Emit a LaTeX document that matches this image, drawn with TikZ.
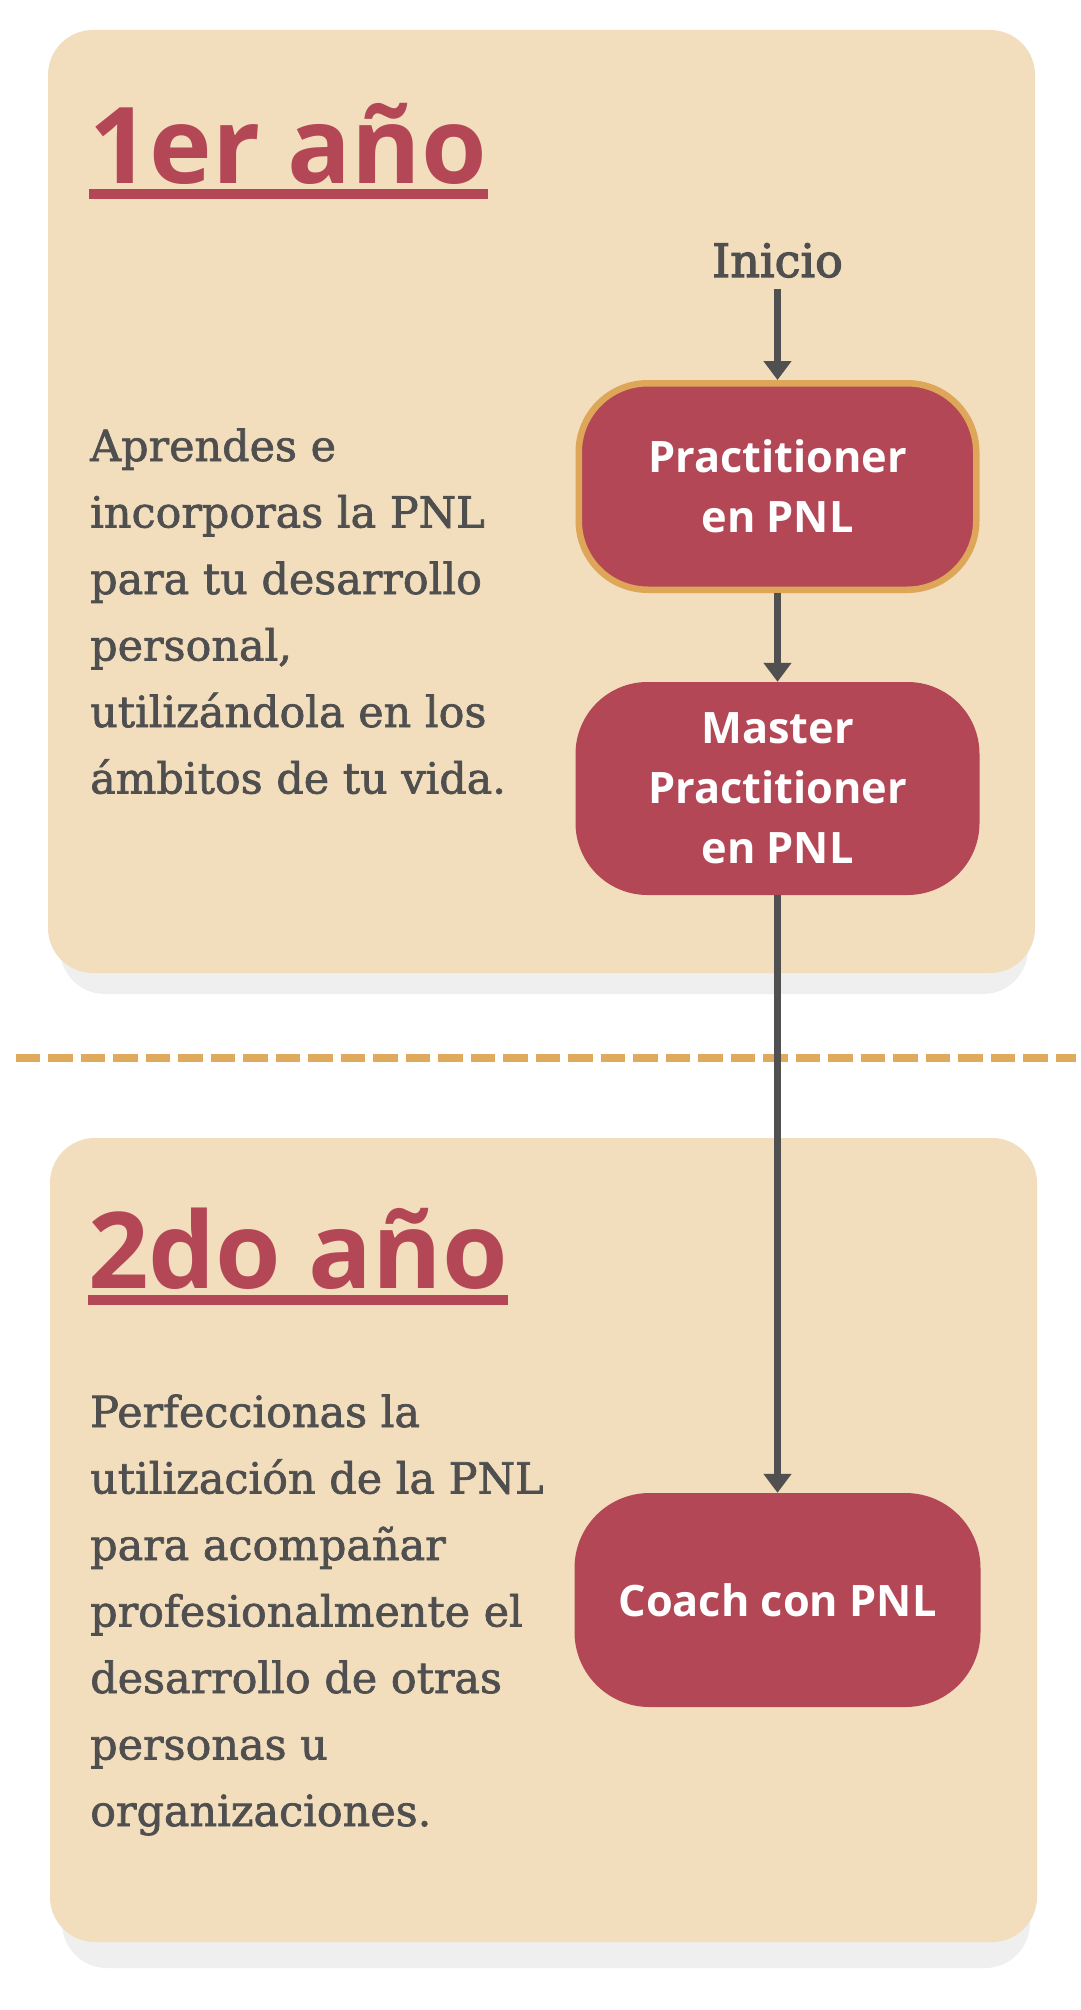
\documentclass[tikz,border=0pt]{standalone}
\usepackage{fontspec}
\setmainfont{DejaVu Serif}
\newfontfamily\bodyfont{DejaVu Serif}[FakeBold=1.6]
\newfontfamily\inifont{DejaVu Serif}[FakeBold=2.6]
\newfontfamily\osans{Open Sans}
\usetikzlibrary{arrows.meta}
\definecolor{beige}{HTML}{F2DDBD}
\definecolor{shadowgray}{HTML}{EFEFEF}
\definecolor{crimson}{HTML}{B44756}
\definecolor{gold}{HTML}{DEA658}
\definecolor{dashgold}{HTML}{E0AA5C}
\definecolor{textgray}{HTML}{4F4F4F}
\definecolor{arrowgray}{HTML}{505050}
\begin{document}
\begin{tikzpicture}[x=1pt,y=-1pt,
  panel/.style={fill=beige, rounded corners=45pt},
  panelshadow/.style={fill=shadowgray, rounded corners=45pt},
  stage/.style={rectangle, rounded corners=72pt, fill=crimson, text=white,
    font=\osans\bfseries\fontsize{43.3}{60}\selectfont, align=center,
    minimum width=404pt, minimum height=213pt, inner sep=0pt},
  yeartitle/.style={anchor=base west, inner sep=0pt, text=crimson,
    font=\osans\bfseries\fontsize{106}{106}\selectfont},
  underl/.style={draw=crimson, line width=10pt},
  body/.style={anchor=base west, inner sep=0pt, text=textgray, align=left,
    font=\bodyfont\fontsize{42.9}{66.5}\selectfont},
  arr/.style={draw=arrowgray, line width=7pt, -{Triangle[length=19pt,width=27pt]}}
]
\useasboundingbox (0,0) rectangle (1080,2010);
\fill[white] (0,0) rectangle (1080,2010);
% panels
\fill[panelshadow] (60,51) rectangle (1028,994);
\fill[panel] (48,30) rectangle (1035,973);
\fill[panelshadow] (62,1164) rectangle (1030,1968);
\fill[panel] (50,1138) rectangle (1037,1942);
% divider
\draw[dashgold, line width=8.3pt, dash pattern=on 24.6pt off 7.9pt] (15.6,1058) -- (1076,1058);
% titles
\node[yeartitle] (t1) at (89,183) {1er año};
\draw[underl] ([yshift=-11pt]t1.base west) -- ([yshift=-11pt]t1.base east);
\node[yeartitle] (t2) at (88,1288) {2do año};
\draw[underl] ([yshift=-12pt]t2.base west) -- ([yshift=-12pt]t2.base east);
% descriptions (base = last line)
\node[body] (d1) at (90,793.5) {Aprendes e\\incorporas la PNL\\para tu desarrollo\\personal,\\utilizándola en los\\ámbitos de tu vida.};
\node[body] (d2) at (90,1826) {Perfeccionas la\\utilización de la PNL\\para acompañar\\profesionalmente el\\desarrollo de otras\\personas u\\organizaciones.};
% flow
\node[anchor=base, inner sep=0pt, text=textgray, font=\inifont\fontsize{46}{46}\selectfont] (inicio) at (777.5,277) {Inicio};
\node[stage, draw=gold, line width=6.5pt, minimum width=397.5pt, minimum height=206.5pt, rounded corners=69pt] (prac) at (777.5,486.5) {Practitioner\\en PNL};
\node[stage] (master) at (777.5,788.5) {Master\\Practitioner\\en PNL};
\node[stage, minimum width=406pt, minimum height=214pt, rounded corners=75pt] (coach) at (777.5,1600) {Coach con PNL};
\draw[arr] ([yshift=-11pt]inicio.south) -- (prac);
\draw[arr] (prac) -- (master);
\draw[arr] (master) -- (coach);
\end{tikzpicture}
\end{document}
